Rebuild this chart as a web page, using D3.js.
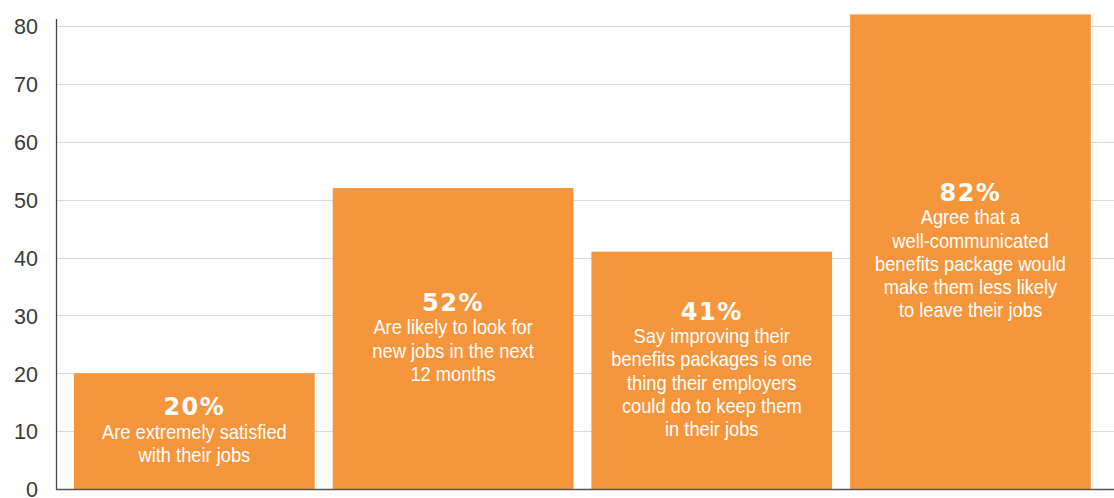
<!DOCTYPE html>
<html>
<head>
<meta charset="utf-8">
<script src="https://cdn.jsdelivr.net/npm/d3@7"></script>
<style>
  html, body { margin: 0; padding: 0; background: #fff; }
  svg { display: block; }
</style>
</head>
<body>
<svg id="chart" width="1114" height="498"></svg>
<script>
const categories = ["extremely satisfied", "look for new jobs", "improving benefits", "well-communicated benefits"];
const values = [20, 52, 41, 82];
const percentLabels = ["20%", "52%", "41%", "82%"];
const descriptions = [
  ["Are extremely satisfied", "with their jobs"],
  ["Are likely to look for", "new jobs in the next", "12 months"],
  ["Say improving their", "benefits packages is one", "thing their employers", "could do to keep them", "in their jobs"],
  ["Agree that a", "well-communicated", "benefits package would", "make them less likely", "to leave their jobs"]
];
const tickValues = [0, 10, 20, 30, 40, 50, 60, 70, 80];

(function () {
const svg = d3.select("#chart");
const W = 1114;
const mLeft = 56, mBottom = 489, mTop = 26;

const y = d3.scaleLinear().domain([0, 80]).range([mBottom, mTop]);
const x = d3.scaleBand().domain(categories).range([mLeft, 1108.8]).paddingInner(0.0696).paddingOuter(0.0696);

// grid lines
svg.append("g").selectAll("line").data(tickValues.filter(d => d > 0)).join("line")
  .attr("x1", mLeft).attr("x2", W)
  .attr("y1", d => Math.round(y(d)) + 0.5).attr("y2", d => Math.round(y(d)) + 0.5)
  .attr("stroke", "#d9d9d9").attr("stroke-width", 1.2);

// y axis
const yAxis = d3.axisLeft(y).tickValues(tickValues).tickSize(0).tickPadding(18);
const ga = svg.append("g").attr("transform", `translate(${mLeft},0)`).call(yAxis);
ga.select(".domain").remove();
ga.selectAll("text")
  .attr("font-family", "'Liberation Sans', Arial, sans-serif")
  .attr("font-size", 21.5)
  .attr("fill", "#3a3a3a")
  .attr("dy", "0.36em");

// bars
svg.append("g").selectAll("rect").data(categories).join("rect")
  .attr("x", d => x(d))
  .attr("y", (d, i) => y(values[i]))
  .attr("width", x.bandwidth())
  .attr("height", (d, i) => y(0) - y(values[i]))
  .attr("fill", "#F6963C");

// axis lines
svg.append("line").attr("x1", mLeft + 0.5).attr("x2", mLeft + 0.5).attr("y1", 19).attr("y2", mBottom + 1)
  .attr("stroke", "#444").attr("stroke-width", 1.3);
svg.append("line").attr("x1", mLeft).attr("x2", W).attr("y1", mBottom + 0.5).attr("y2", mBottom + 0.5)
  .attr("stroke", "#555").attr("stroke-width", 1.3);

// labels
const lineH = 23.3;
categories.forEach((c, i) => {
  const cx = x(c) + x.bandwidth() / 2;
  const mid = (y(values[i]) + y(0)) / 2;
  const n = descriptions[i].length;
  const b0 = mid - lineH * n / 2 + 7.5;
  const g = svg.append("g");
  g.append("text")
    .attr("x", cx).attr("y", b0)
    .attr("text-anchor", "middle")
    .attr("font-family", "'DejaVu Sans', sans-serif")
    .attr("font-weight", "bold")
    .attr("font-size", 24)
    .attr("letter-spacing", 1.5)
    .attr("fill", "#fff")
    .text(percentLabels[i]);
  descriptions[i].forEach((line, j) => {
    g.append("text")
      .attr("transform", `translate(${cx},${b0 + lineH * (j + 1)}) scale(0.87,1)`)
      .attr("text-anchor", "middle")
      .attr("font-family", "'Liberation Sans', Arial, sans-serif")
      .attr("font-size", 21)
      .attr("fill", "#fff")
      .text(line);
  });
});
})();
</script>
</body>
</html>
